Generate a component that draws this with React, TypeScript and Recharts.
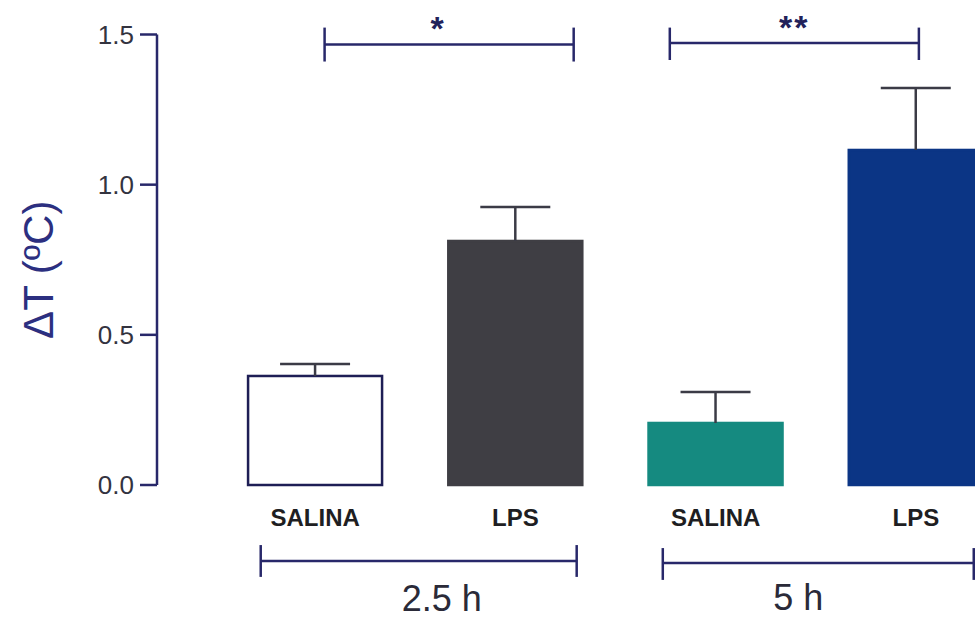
import React from "react";
import { Bar, BarChart, Cell, ReferenceLine, XAxis, YAxis } from "recharts";

// group means and SEM (ΔT in ºC)
const groupLabels = ["SALINA", "LPS", "SALINA", "LPS"];
const positions = [1, 2, 3, 4];
const means = [0.363, 0.8125, 0.2065, 1.1155];
const sems = [0.04, 0.113, 0.103, 0.206];
const fills = ["#ffffff", "#3f3e44", "#158a80", "#0b3585"];
const strokes = ["#1e1e55", "#3f3e44", "#158a80", "#0b3585"];
const yTicks = [0, 0.5, 1, 1.5];

// significance brackets above bars, time brackets below the axis
const sigBrackets = [
  { x1: 1.047, x2: 2.291, y: 1.467, top: 1.523, bottom: 1.41, text: "*", dx: -11 },
  { x1: 2.771, x2: 4.015, y: 1.472, top: 1.523, bottom: 1.415, text: "**", dx: 0 },
];
const timeBrackets = [
  { x1: 0.728, x2: 2.306, y: -0.253, top: -0.2, bottom: -0.306, text: "2.5 h", dx: 23, dy: 50 },
  { x1: 2.736, x2: 4.289, y: -0.26, top: -0.21, bottom: -0.316, text: "5 h", dx: -20, dy: 47 },
];

const data = positions.map((pos, i) => ({
  pos,
  name: groupLabels[i],
  mean: means[i],
  sem: sems[i],
}));

const FONT = "'Liberation Sans', Arial, Helvetica, sans-serif";
const NAVY = "#28286a";

function BarWithError(props: any) {
  const { x, y, width, height, fill, stroke, payload } = props;
  const perUnit = height / payload.mean;
  const errTop = y - payload.sem * perUnit;
  const cx = x + width / 2;
  return (
    <g>
      <rect x={x} y={y} width={width} height={height} fill={fill} stroke={stroke} strokeWidth={2.5} />
      <line x1={cx} y1={y} x2={cx} y2={errTop} stroke="#3b3b46" strokeWidth={2.5} />
      <line x1={cx - 35} y1={errTop} x2={cx + 35} y2={errTop} stroke="#3b3b46" strokeWidth={2.5} />
    </g>
  );
}

function boxOf(vb: any) {
  if (vb && vb.x1 !== undefined) {
    return { x: Math.min(vb.x1, vb.x2), y: Math.min(vb.y1, vb.y2), width: Math.abs(vb.x2 - vb.x1) };
  }
  return { x: vb?.x ?? 0, y: vb?.y ?? 0, width: vb?.width ?? 0 };
}

const topLabel = (text: string, dx: number) => (props: any) => {
  const b = boxOf(props.viewBox);
  return (
    <text x={b.x + b.width / 2 + dx} y={b.y - 4} textAnchor="middle" fontFamily={FONT} fontSize={34} fontWeight={700} fill="#22225a" letterSpacing={2}>
      {text}
    </text>
  );
};

const bottomLabel = (text: string, dx: number, dy: number) => (props: any) => {
  const b = boxOf(props.viewBox);
  return (
    <text x={b.x + b.width / 2 + dx} y={b.y + dy} textAnchor="middle" fontFamily={FONT} fontSize={36} fill="#2a2a38">
      {text}
    </text>
  );
};

const yLabel = (props: any) => {
  const vb = props.viewBox || { x: 0, y: 0, height: 0 };
  const lx = vb.x + 53;
  const ly = vb.y + vb.height / 2 + 10;
  return (
    <text x={lx} y={ly} transform={`rotate(-90, ${lx}, ${ly})`} textAnchor="middle" fontFamily={FONT} fontSize={42} fill="#2c2f80">
      ΔT (ºC)
    </text>
  );
};

export default function App() {
  const lineProps = { stroke: NAVY, strokeWidth: 2.5, ifOverflow: "visible" as const };
  return (
    <div style={{ position: "absolute", left: 0, top: 0, width: 975, height: 619, overflow: "hidden", background: "#fff" }}>
      <BarChart width={1016} height={619} data={data} margin={{ top: 34.5, right: 0, bottom: 74, left: 0 }}>
        <XAxis
          type="number"
          dataKey="pos"
          domain={[0.21, 4.5]}
          ticks={positions}
          interval={0}
          tickFormatter={(v: number) => groupLabels[positions.indexOf(v)]}
          axisLine={false}
          tickLine={false}
          tickSize={0}
          tickMargin={24}
          height={60}
          tick={{ fontFamily: FONT, fontSize: 24, fontWeight: 700, fill: "#1e1e22" }}
        />
        <YAxis
          type="number"
          domain={[0, 1.5]}
          ticks={yTicks}
          interval={0}
          width={157}
          tickFormatter={(v: number) => v.toFixed(1)}
          axisLine={{ stroke: NAVY, strokeWidth: 2.5 }}
          tickLine={{ stroke: NAVY, strokeWidth: 2.5 }}
          tickSize={17}
          tickMargin={6}
          tick={{ fontFamily: FONT, fontSize: 26, fill: "#33333f" }}
          label={yLabel}
        />
        <Bar dataKey="mean" barSize={134} isAnimationActive={false} shape={BarWithError}>
          {data.map((d, i) => (
            <Cell key={i} fill={fills[i]} stroke={strokes[i]} />
          ))}
        </Bar>
        {sigBrackets.map((b, i) => (
          <ReferenceLine key={`s${i}`} {...lineProps} segment={[{ x: b.x1, y: b.y }, { x: b.x2, y: b.y }]} label={topLabel(b.text, b.dx)} />
        ))}
        {sigBrackets.map((b, i) => (
          <ReferenceLine key={`sl${i}`} {...lineProps} segment={[{ x: b.x1, y: b.top }, { x: b.x1, y: b.bottom }]} />
        ))}
        {sigBrackets.map((b, i) => (
          <ReferenceLine key={`sr${i}`} {...lineProps} segment={[{ x: b.x2, y: b.top }, { x: b.x2, y: b.bottom }]} />
        ))}
        {timeBrackets.map((b, i) => (
          <ReferenceLine key={`t${i}`} {...lineProps} segment={[{ x: b.x1, y: b.y }, { x: b.x2, y: b.y }]} label={bottomLabel(b.text, b.dx, b.dy)} />
        ))}
        {timeBrackets.map((b, i) => (
          <ReferenceLine key={`tl${i}`} {...lineProps} segment={[{ x: b.x1, y: b.top }, { x: b.x1, y: b.bottom }]} />
        ))}
        {timeBrackets.map((b, i) => (
          <ReferenceLine key={`tr${i}`} {...lineProps} segment={[{ x: b.x2, y: b.top }, { x: b.x2, y: b.bottom }]} />
        ))}
      </BarChart>
    </div>
  );
}
